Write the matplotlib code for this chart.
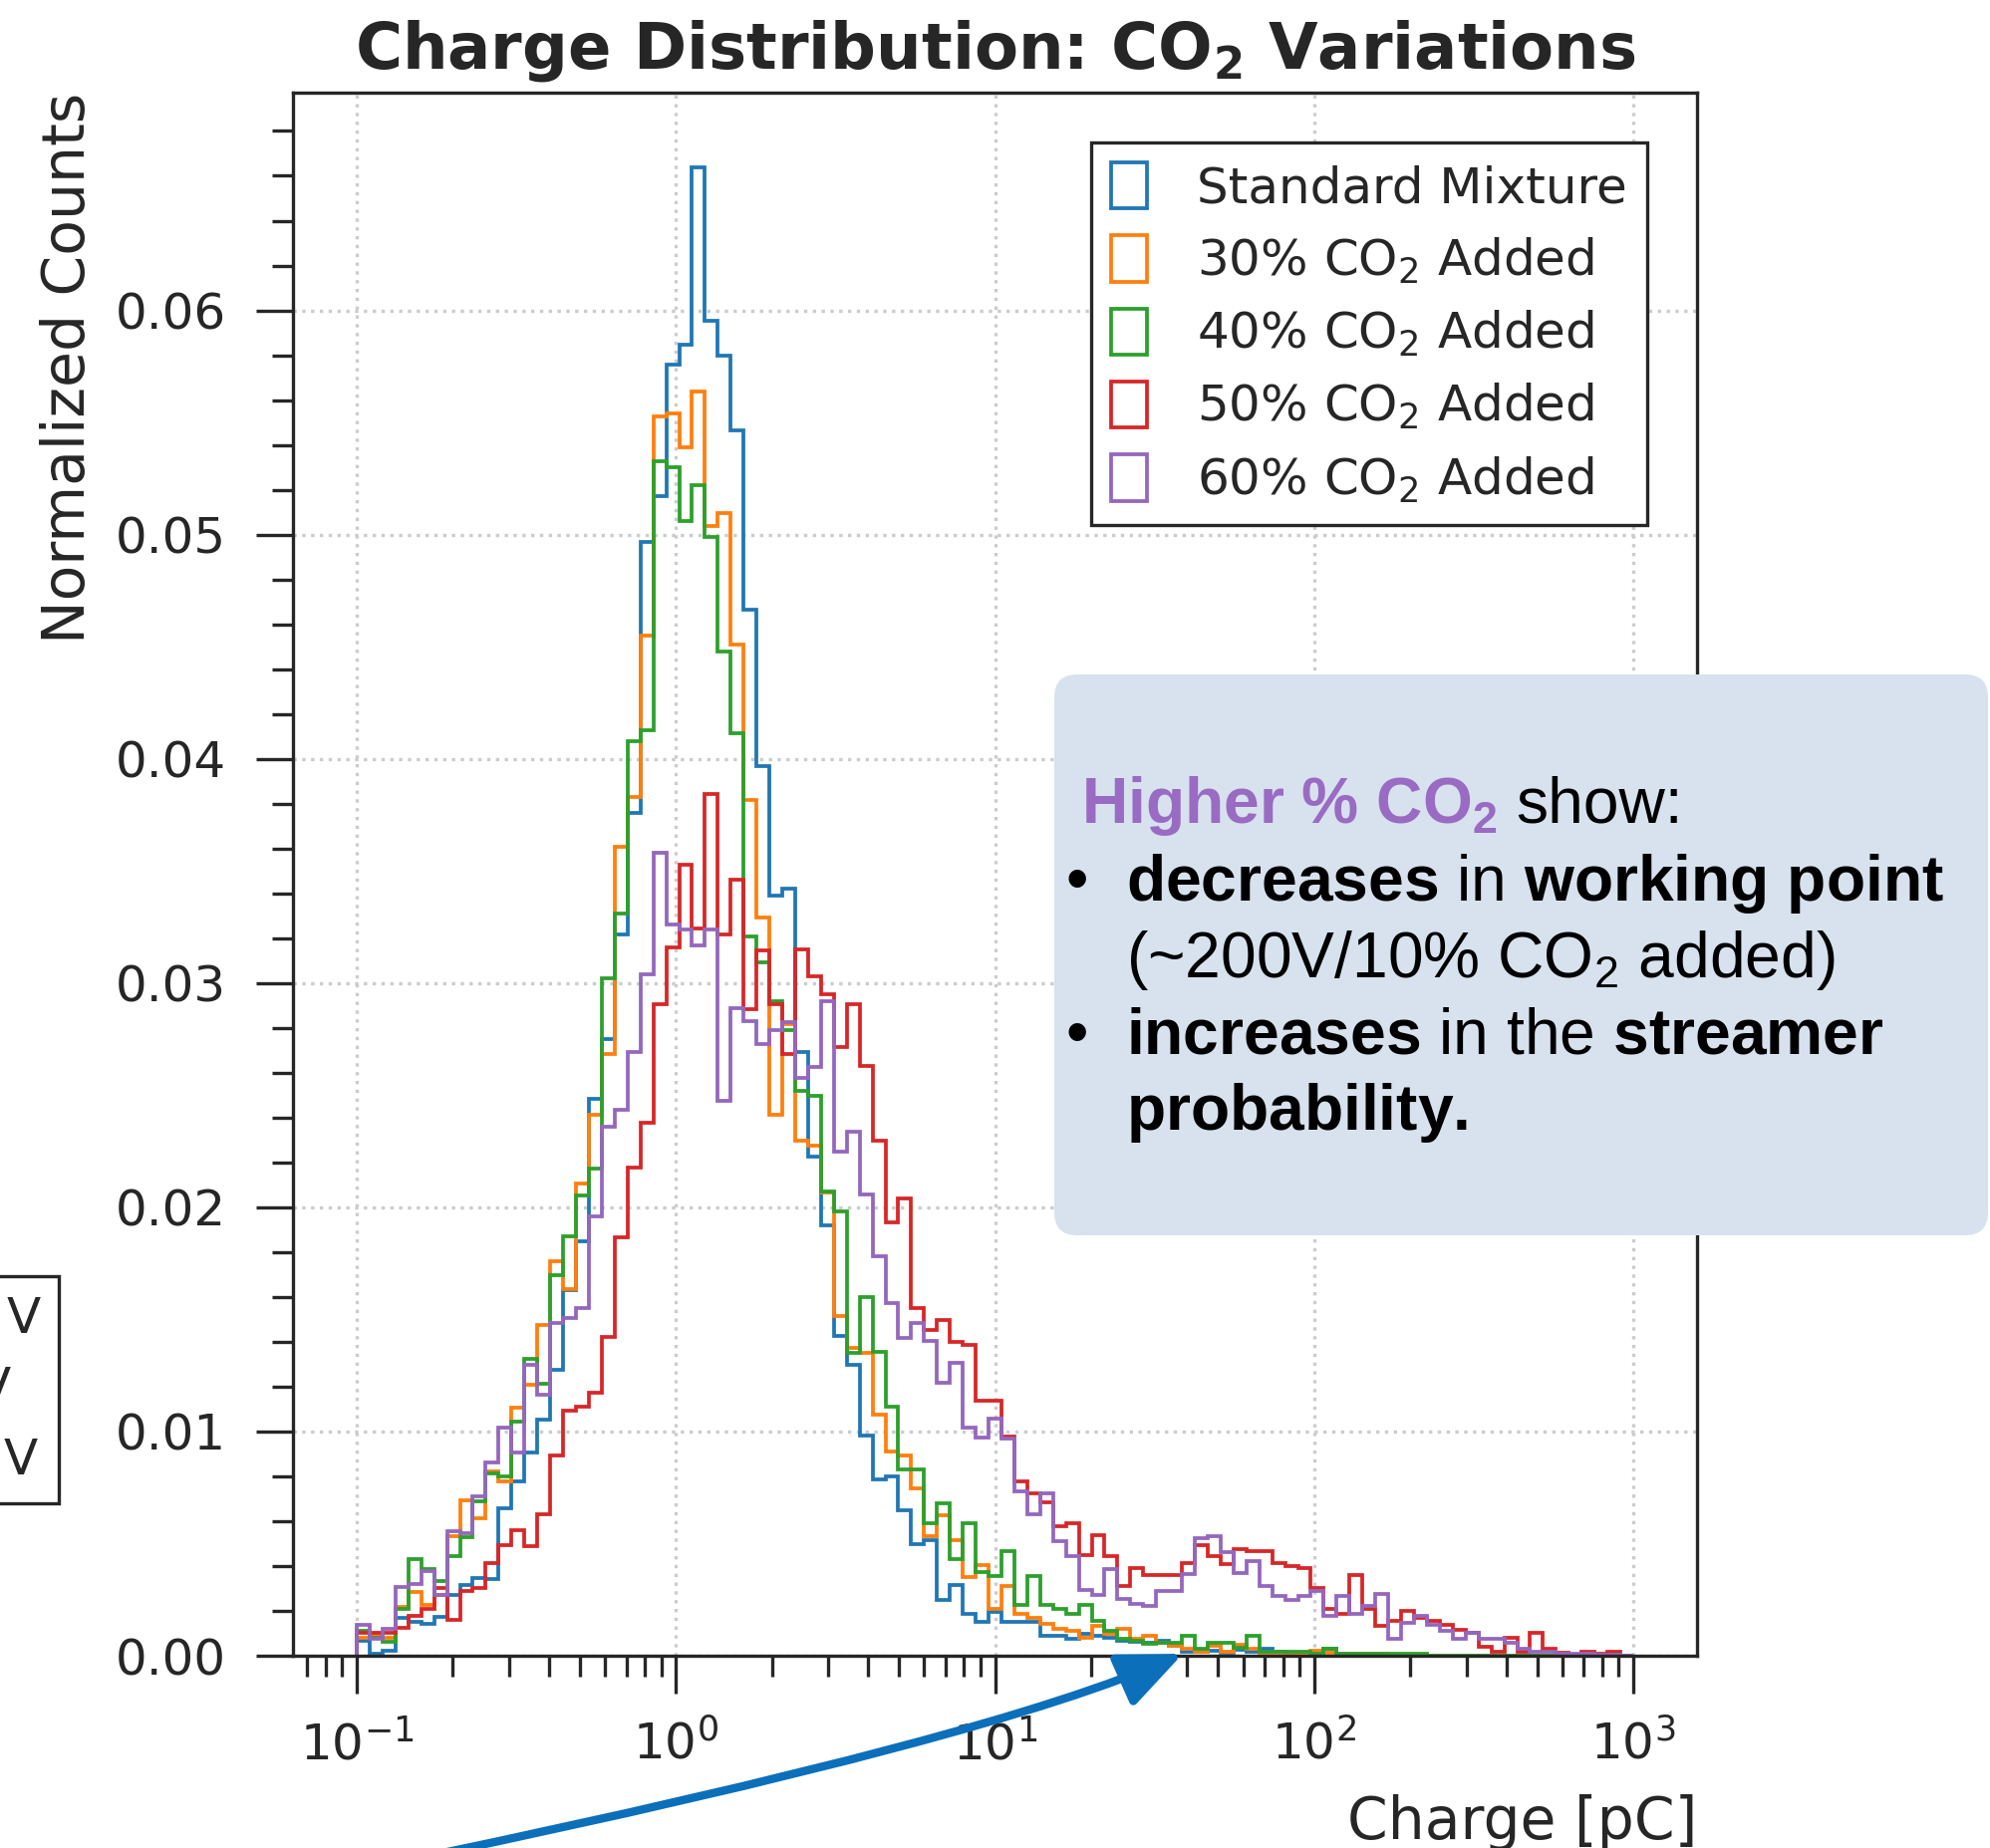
import numpy as np
import matplotlib
matplotlib.use("Agg")
import matplotlib.pyplot as plt
from matplotlib.patches import FancyBboxPatch, FancyArrowPatch, Rectangle
from matplotlib.path import Path
from matplotlib.ticker import AutoMinorLocator
from matplotlib.transforms import IdentityTransform

W, H = 1997, 1855
DPI = 300

# 99 log bins from 0.1 to 1000 pC
bin_edges = np.logspace(-1, 3, 100)

labels = ["Standard Mixture", "30% CO$_2$ Added", "40% CO$_2$ Added",
          "50% CO$_2$ Added", "60% CO$_2$ Added"]
colors = ["#1f77b4", "#ff7f0e", "#2ca02c", "#d62728", "#9467bd"]

standard = [
    0.00066, 0.00010, 0.00022, 0.00170, 0.00151, 0.00140, 0.00173, 0.00270, 0.00315, 0.00347,
    0.00340, 0.00657, 0.00778, 0.00908, 0.01053, 0.01275, 0.01630, 0.01848, 0.02482, 0.02750,
    0.03218, 0.03757, 0.04969, 0.05173, 0.05758, 0.05847, 0.06639, 0.05953, 0.05800, 0.05464,
    0.04664, 0.03966, 0.03391, 0.03422, 0.02691, 0.02224, 0.01921, 0.01428, 0.01297, 0.00982,
    0.00787, 0.00798, 0.00647, 0.00498, 0.00517, 0.00247, 0.00315, 0.00185, 0.00151, 0.00195,
    0.00151, 0.00151, 0.00151, 0.00089, 0.00089, 0.00074, 0.00099, 0.00089, 0.00081, 0.00066,
    0.00063, 0.00059, 0.00066, 0.00044, 0.00019, 0.00019, 0.00022, 0.00015, 0.00025, 0.00019,
    0.00030, 0.00019, 0.00015, 0.00010, 0.00007, 0.00030, 0.00004, 0.00004, 0.00004, 0.00004,
    0, 0, 0, 0, 0, 0, 0, 0, 0, 0,
    0, 0, 0, 0, 0, 0, 0, 0, 0]
co2_30 = [
    0.00081, 0.00089, 0.00081, 0.00217, 0.00284, 0.00225, 0.00273, 0.00535, 0.00694, 0.00613,
    0.00823, 0.00778, 0.01108, 0.01207, 0.01474, 0.01758, 0.01635, 0.02108, 0.02414, 0.02683,
    0.03607, 0.03830, 0.04549, 0.05529, 0.05541, 0.05390, 0.05639, 0.05037, 0.05097, 0.04508,
    0.03816, 0.03293, 0.02414, 0.02819, 0.02295, 0.02273, 0.02065, 0.01514, 0.01374, 0.01351,
    0.01074, 0.00913, 0.00891, 0.00746, 0.00535, 0.00628, 0.00517, 0.00350, 0.00406, 0.00207,
    0.00310, 0.00185, 0.00170, 0.00140, 0.00120, 0.00111, 0.00081, 0.00133, 0.00096, 0.00118,
    0.00074, 0.00089, 0.00059, 0.00044, 0.00030, 0.00019, 0.00044, 0.00019, 0.00047, 0.00030,
    0.00015, 0.00015, 0.00015, 0.00010, 0.00022, 0.00015, 0.00007, 0.00010, 0.00010, 0.00010,
    0.00004, 0.00004, 0, 0, 0, 0, 0, 0, 0, 0,
    0, 0, 0, 0, 0, 0, 0, 0, 0]
co2_40 = [
    0.00111, 0.00081, 0.00063, 0.00207, 0.00433, 0.00388, 0.00332, 0.00443, 0.00529, 0.00690,
    0.00812, 0.00800, 0.01044, 0.01322, 0.01214, 0.01699, 0.01870, 0.02054, 0.02173, 0.03023,
    0.03312, 0.04080, 0.04126, 0.05325, 0.05300, 0.05059, 0.05220, 0.04991, 0.04478, 0.04114,
    0.03210, 0.03091, 0.02920, 0.02788, 0.02521, 0.02499, 0.02070, 0.01980, 0.01351, 0.01600,
    0.01354, 0.01112, 0.00832, 0.00832, 0.00591, 0.00679, 0.00433, 0.00591, 0.00374, 0.00354,
    0.00465, 0.00225, 0.00354, 0.00226, 0.00207, 0.00188, 0.00225, 0.00155, 0.00111, 0.00077,
    0.00066, 0.00052, 0.00059, 0.00059, 0.00089, 0.00030, 0.00056, 0.00056, 0.00034, 0.00089,
    0.00019, 0.00019, 0.00019, 0.00019, 0.00010, 0.00030, 0.00010, 0.00010, 0.00010, 0.00010,
    0.00010, 0.00010, 0.00010, 0, 0, 0, 0, 0, 0, 0,
    0, 0, 0, 0, 0, 0, 0, 0, 0]
co2_50 = [
    0.00103, 0.00103, 0.00103, 0.00123, 0.00177, 0.00207, 0.00300, 0.00162, 0.00291, 0.00303,
    0.00411, 0.00495, 0.00558, 0.00487, 0.00631, 0.00894, 0.01093, 0.01112, 0.01174, 0.01422,
    0.01867, 0.02176, 0.02377, 0.02907, 0.03159, 0.03527, 0.03244, 0.03845, 0.03218, 0.03463,
    0.02885, 0.03145, 0.02907, 0.02683, 0.03148, 0.03029, 0.02949, 0.02715, 0.02907, 0.02630,
    0.02295, 0.01933, 0.02040, 0.01551, 0.01452, 0.01496, 0.01399, 0.01384, 0.01137, 0.01137,
    0.00978, 0.00778, 0.00724, 0.00684, 0.00579, 0.00591, 0.00450, 0.00536, 0.00443, 0.00310,
    0.00391, 0.00359, 0.00359, 0.00359, 0.00411, 0.00495, 0.00443, 0.00409, 0.00476, 0.00468,
    0.00468, 0.00411, 0.00402, 0.00391, 0.00303, 0.00207, 0.00185, 0.00359, 0.00210, 0.00133,
    0.00155, 0.00199, 0.00170, 0.00155, 0.00136, 0.00115, 0.00103, 0.00041, 0.00019, 0.00081,
    0.00019, 0.00103, 0.00030, 0.00015, 0.00004, 0.00019, 0.00010, 0.00019, 0]
co2_60 = [
    0.00136, 0.00077, 0.00118, 0.00307, 0.00322, 0.00377, 0.00273, 0.00554, 0.00547, 0.00712,
    0.00861, 0.01019, 0.00908, 0.01297, 0.01164, 0.01484, 0.01507, 0.01551, 0.01958, 0.02360,
    0.02436, 0.02691, 0.03038, 0.03583, 0.03259, 0.03238, 0.03170, 0.03238, 0.02473, 0.02890,
    0.02830, 0.02728, 0.02791, 0.02825, 0.02575, 0.02626, 0.02920, 0.02249, 0.02337, 0.02057,
    0.01783, 0.01573, 0.01418, 0.01484, 0.01403, 0.01219, 0.01307, 0.01019, 0.00975, 0.01056,
    0.00967, 0.00731, 0.00631, 0.00724, 0.00513, 0.00443, 0.00295, 0.00273, 0.00388, 0.00254,
    0.00232, 0.00222, 0.00288, 0.00288, 0.00365, 0.00524, 0.00535, 0.00462, 0.00369, 0.00424,
    0.00310, 0.00266, 0.00251, 0.00266, 0.00288, 0.00177, 0.00266, 0.00185, 0.00222, 0.00276,
    0.00077, 0.00148, 0.00177, 0.00136, 0.00111, 0.00074, 0.00103, 0.00077, 0.00077, 0.00059,
    0.00030, 0.00019, 0.00019, 0.00010, 0.00010, 0.00007, 0.00004, 0.00004, 0]

series = [standard, co2_30, co2_40, co2_50, co2_60]

TXT = "#262626"
plt.rcParams["font.family"] = ["DejaVu Sans"]
plt.rcParams["mathtext.rm"] = "Liberation Sans"
plt.rcParams["mathtext.it"] = "Liberation Sans:italic"
plt.rcParams["mathtext.bf"] = "Liberation Sans:bold"

fig = plt.figure(figsize=(W / DPI, H / DPI), dpi=DPI)
ax = fig.add_axes([294 / W, 1 - 1662 / H, 1409 / W, 1569 / H])
ax.set_xscale("log")

centers = np.sqrt(bin_edges[:-1] * bin_edges[1:])
for vals, lab, c in zip(series, labels, colors):
    ax.hist(centers, bins=bin_edges, weights=vals, histtype="step",
            color=c, lw=0.9, label=lab)

ax.yaxis.set_minor_locator(AutoMinorLocator())
ax.tick_params(which="major", length=9, width=0.8, labelsize=12,
               colors=TXT, direction="out")
ax.tick_params(axis="x", which="major", pad=6.5)
ax.tick_params(axis="y", which="major", pad=7)
ax.tick_params(which="minor", length=5, width=0.8, colors=TXT)
ax.grid(True, which="major", ls=":", color="#cccccc", lw=0.8)
for s in ax.spines.values():
    s.set_linewidth(0.8)
    s.set_color(TXT)

ax.set_title("Charge Distribution: CO$_\\mathbf{2}$ Variations",
             fontsize=15.4, fontweight="bold", color=TXT, pad=6)
ax.set_xlabel("Charge [pC]", loc="right", fontsize=14, color=TXT, labelpad=6)
ax.set_ylabel("Normalized Counts", loc="top", fontsize=14, color=TXT, labelpad=4.5)

leg = ax.legend(loc="upper right", fontsize=12, fancybox=False, framealpha=1,
                edgecolor=TXT, handlelength=0.72, handleheight=1.05,
                handletextpad=1.0, labelspacing=0.46, borderaxespad=1.0,
                borderpad=0.4)
leg.get_frame().set_linewidth(0.8)
for t in leg.get_texts():
    t.set_color(TXT)

# slide overlay: note box, arrow, cut-off legend of a neighbouring plot
ident = IdentityTransform()
box = FancyBboxPatch((1058, H - 1240), 1995 - 1058, 1240 - 677,
                     boxstyle="round,pad=0,rounding_size=23",
                     transform=ident, facecolor="#d7e2ee", edgecolor="none",
                     zorder=5)
fig.add_artist(box)

kw = dict(fontsize=15.4, family="Liberation Sans", math_fontfamily="custom",
          transform=ident, va="baseline", ha="left", zorder=6, color="black")
t1 = fig.text(1085, H - 826, r"$\mathbf{Higher\ \%\ CO_2}$", **{**kw, "color": "#9a6bc2"})
fig.text(1070, H - 904, "\u2022", **kw)
fig.text(1130, H - 904, r"$\mathbf{decreases}$ in $\mathbf{working\ point}$", **kw)
fig.text(1130, H - 981, r"(~200V/10% CO$_2$ added)", **kw)
fig.text(1070, H - 1058, "\u2022", **kw)
fig.text(1130, H - 1058, r"$\mathbf{increases}$ in the $\mathbf{streamer}$", **kw)
fig.text(1130, H - 1134, r"$\mathbf{probability.}$", **kw)
fig.canvas.draw()
w1 = t1.get_window_extent(fig.canvas.get_renderer()).width
fig.text(1085 + w1 + 19, H - 826, "show:", **kw)

arrow_path = Path([(430, -8), (995, 110), (1187, 195)],
                  [Path.MOVETO, Path.CURVE3, Path.CURVE3])
arrow = FancyArrowPatch(path=arrow_path, transform=ident,
                        arrowstyle="-|>,head_length=0.65,head_width=0.28",
                        mutation_scale=20, lw=2.0, color="#0b6fba", zorder=6)
fig.add_artist(arrow)

fig.add_artist(Rectangle((-30, H - 1509), 89, 228, transform=ident, fill=False,
                         edgecolor=TXT, lw=0.8, zorder=6))
for xr, yc in [(41, 1324), (11, 1394), (38, 1466)]:
    fig.text(xr, H - yc, "V", transform=ident, ha="right", va="center",
             fontsize=12, color=TXT, zorder=6)

fig.savefig("out.png", dpi=DPI)
